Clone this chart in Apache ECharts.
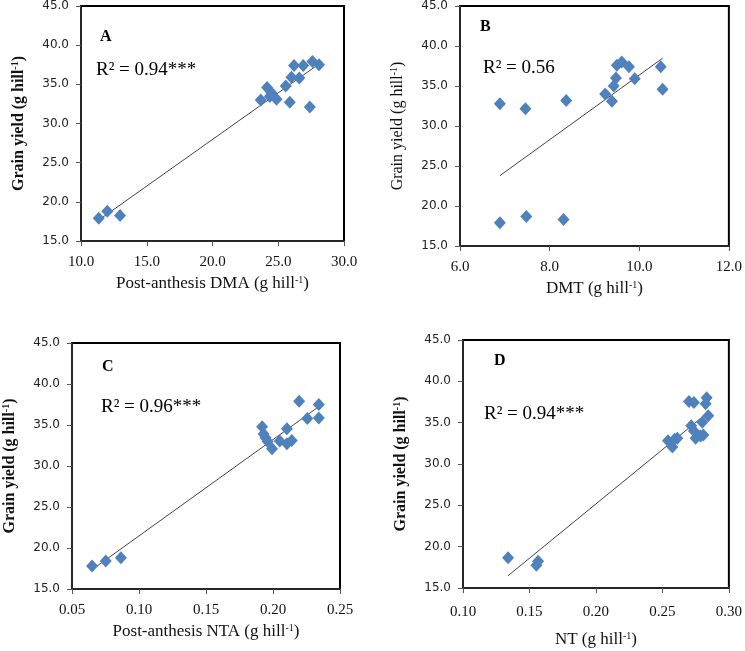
<!DOCTYPE html>
<html>
<head>
  <meta charset="utf-8">
  <title>Grain yield</title>
  <script src="https://cdn.jsdelivr.net/npm/echarts@6/dist/echarts.min.js"></script>
  <style>
    body { margin: 0; background: #fff; }
    #main { width: 745px; height: 651px; }
  </style>
</head>
<body>
  <div id="main"></div>
  <script type="text/javascript">
    // points: [x, grain yield]
    var dmaPoints = [
      [11.35, 17.9], [12.0, 18.8], [12.97, 18.27], [23.67, 33.0], [24.15, 34.6],
      [24.5, 33.9], [24.36, 33.45], [24.87, 33.1], [25.57, 34.8], [25.88, 32.7],
      [26.0, 35.9], [26.2, 37.4], [26.6, 35.8], [26.9, 37.4], [27.4, 32.1],
      [27.6, 37.9], [28.1, 37.5]
    ];
    var dmtPoints = [
      [6.89, 32.78], [6.89, 17.9], [7.46, 32.15], [7.48, 18.7], [8.31, 18.3],
      [8.37, 33.2], [9.24, 34.0], [9.39, 33.1], [9.43, 35.0], [9.48, 36.0],
      [9.50, 37.6], [9.61, 38.0], [9.77, 37.4], [9.90, 35.9], [10.48, 37.4],
      [10.52, 34.6]
    ];
    var ntaPoints = [
      [0.065, 17.8], [0.0752, 18.4], [0.0865, 18.8], [0.1919, 34.8], [0.1930, 33.9],
      [0.1944, 33.45], [0.1960, 33.0], [0.1993, 32.1], [0.205, 33.05], [0.2104, 34.55],
      [0.2104, 32.7], [0.214, 33.1], [0.2195, 37.9], [0.2256, 35.8], [0.2342, 37.5],
      [0.2342, 35.85]
    ];
    var ntPoints = [
      [0.1339, 18.66], [0.1552, 17.76], [0.1565, 18.25], [0.2542, 32.8], [0.2575, 32.07],
      [0.2592, 33.0], [0.2612, 33.1], [0.2700, 37.56], [0.2737, 37.44], [0.2717, 34.63],
      [0.2737, 34.0], [0.2750, 33.1], [0.2787, 33.4], [0.2808, 33.5], [0.2800, 35.04],
      [0.2833, 38.0], [0.2825, 37.3], [0.2845, 35.85]
    ];
    var panelLetters = ['A', 'B', 'C', 'D'];
    var r2Labels = ['R\u00b2 = 0.94***', 'R\u00b2 = 0.56', 'R\u00b2 = 0.96***', 'R\u00b2 = 0.94***'];
    var xNames = ['Post-anthesis DMA', 'DMT', 'Post-anthesis NTA', 'NT'];
    var xRanges = [[10, 30, 5, 1], [6, 12, 2, 1], [0.05, 0.25, 0.05, 2], [0.10, 0.30, 0.05, 2]];
    var yTicks = [15, 45, 5];

    // least squares line, drawn between the smallest and largest x
    function trend(pts) {
      var n = pts.length, sx = 0, sy = 0, sxx = 0, sxy = 0;
      pts.forEach(function (p) { sx += p[0]; sy += p[1]; sxx += p[0] * p[0]; sxy += p[0] * p[1]; });
      var b = (n * sxy - sx * sy) / (n * sxx - sx * sx);
      var a = (sy - b * sx) / n;
      var xs = pts.map(function (p) { return p[0]; });
      var x0 = Math.min.apply(null, xs), x1 = Math.max.apply(null, xs);
      return [[x0, a + b * x0], [x1, a + b * x1]];
    }

    var allPoints = [dmaPoints, dmtPoints, ntaPoints, ntPoints];
    var grids = [
      { left: 81, top: 6, width: 263, height: 235 },
      { left: 460, top: 6, width: 270, height: 240 },
      { left: 67, top: 343, width: 273, height: 246 },
      { left: 463, top: 340, width: 266, height: 248 }
    ];
    var yBold = ['bold', 'normal', 'bold', 'bold'];
    var xGap = [34, 34, 34, 43];
    var xLabelMargin = [14, 14, 14, 17];
    var letterPos = [[100, 38], [480, 28], [102, 368], [494, 362]];
    var r2Pos = [[96, 72], [483, 70], [101, 409], [484, 416]];

    var serif = '"Liberation Serif", "DejaVu Serif", serif';
    var myChart = echarts.init(document.getElementById('main'));
    var option = {
      backgroundColor: '#fff',
      animation: false,
      grid: grids.map(function (g) {
        return Object.assign({ show: true, borderColor: '#000', borderWidth: 2, backgroundColor: '#fff' }, g);
      }),
      xAxis: xRanges.map(function (r, i) {
        return {
          type: 'value', gridIndex: i, min: r[0], max: r[1], interval: r[2],
          splitLine: { show: false },
          axisLine: { onZero: false, lineStyle: { color: '#333', width: 1.5 } },
          axisTick: { length: 5, lineStyle: { color: '#555' } },
          axisLabel: {
            margin: xLabelMargin[i], color: '#111', fontFamily: serif, fontSize: 15,
            formatter: function (v) { return v.toFixed(r[3]); }
          },
          name: xNames[i] + ' (g hill{sup|-1})',
          nameLocation: 'middle', nameGap: xGap[i],
          nameTextStyle: {
            color: '#111', fontFamily: serif, fontSize: 17,
            rich: { sup: { fontSize: 10, verticalAlign: 'top', padding: [0, 0, 8, 0], fontFamily: serif, color: '#111' } }
          }
        };
      }),
      yAxis: grids.map(function (g, i) {
        return {
          type: 'value', gridIndex: i, min: yTicks[0], max: yTicks[1], interval: yTicks[2],
          splitLine: { show: false },
          axisLine: { onZero: false, lineStyle: { color: '#333', width: 1.5 } },
          axisTick: { length: 5, lineStyle: { color: '#555' } },
          axisLabel: {
            margin: 12, color: '#222', fontFamily: '"DejaVu Sans", sans-serif', fontSize: 12,
            formatter: function (v) { return v.toFixed(1); }
          },
          name: 'Grain yield (g hill{sup|-1})',
          nameLocation: 'middle', nameGap: 54, nameRotate: 90,
          nameTextStyle: {
            color: '#111', fontFamily: serif, fontSize: 16, fontWeight: yBold[i],
            rich: { sup: { fontSize: 10, fontWeight: yBold[i], verticalAlign: 'top', padding: [0, 0, 7, 0], fontFamily: serif, color: '#111' } }
          }
        };
      }),
      series: [],
      graphic: []
    };

    allPoints.forEach(function (pts, i) {
      option.series.push({
        type: 'line', xAxisIndex: i, yAxisIndex: i, data: trend(pts),
        showSymbol: false, silent: true,
        lineStyle: { color: '#444', width: 1 }, z: 1
      });
      option.series.push({
        type: 'scatter', xAxisIndex: i, yAxisIndex: i, data: pts,
        symbol: 'diamond', symbolSize: [12, 13],
        itemStyle: { color: '#4F81BD', opacity: 1 }, z: 2
      });
      option.graphic.push({
        type: 'text', left: letterPos[i][0], top: letterPos[i][1] - 9, z: 10,
        style: { text: panelLetters[i], font: 'bold 16px ' + serif, fill: '#000' }
      });
      option.graphic.push({
        type: 'text', left: r2Pos[i][0], top: r2Pos[i][1] - 11, z: 10,
        style: { text: r2Labels[i], font: '19px ' + serif, fill: '#000' }
      });
    });

    myChart.setOption(option);
  </script>
</body>
</html>
